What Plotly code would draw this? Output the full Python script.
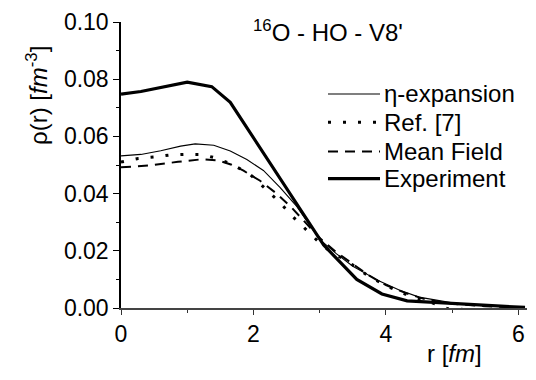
import plotly.graph_objects as go

# ---- data ----
r_eta = [0, 0.3, 0.6, 0.9, 1.12, 1.4, 1.65, 1.9, 2.15, 2.4, 2.65, 3.0, 3.25, 3.5, 3.9, 4.2, 4.5, 5.0, 5.5, 6.1]
rho_eta = [0.0532, 0.0537, 0.0550, 0.0566, 0.0574, 0.0569, 0.0549, 0.0519, 0.0481, 0.0422, 0.0356, 0.0240,
           0.0190, 0.0146, 0.0094, 0.0063, 0.0038, 0.0018, 0.0007, 0.0002]

r_ref7 = [0, 0.26, 0.51, 0.74, 0.98, 1.21, 1.44, 1.67, 1.94, 2.15, 2.39, 2.6, 2.83, 3.06, 3.5, 3.76, 4.04,
          4.29, 4.72, 4.94, 5.17, 5.42]
rho_ref7 = [0.0510, 0.0523, 0.0528, 0.0535, 0.0537, 0.0537, 0.0524, 0.0503, 0.0469, 0.0424, 0.0371, 0.0318,
            0.0265, 0.0214, 0.0150, 0.0108, 0.0074, 0.0049, 0.0016, -0.0003, -0.0005, -0.0005]

r_mf = [0, 0.41, 0.86, 1.22, 1.47, 1.67, 1.85, 2.1, 2.35, 2.58, 2.8, 3.0, 3.25, 3.5, 3.75, 4.0, 4.3, 4.6,
        5.0, 5.5, 6.1]
rho_mf = [0.0492, 0.0498, 0.0511, 0.0520, 0.0516, 0.0501, 0.0480, 0.0445, 0.0400, 0.0350, 0.0295, 0.0245,
          0.0195, 0.0153, 0.0113, 0.0080, 0.0052, 0.0030, 0.0015, 0.0006, 0.0001]

r_exp = [0, 0.3, 1.0, 1.37, 1.65, 3.06, 3.56, 3.94, 4.32, 4.7, 5.4, 6.1]
rho_exp = [0.0748, 0.0757, 0.0790, 0.0774, 0.0719, 0.0220, 0.0100, 0.0049, 0.0025, 0.0020, 0.0010, 0.0002]

legend_names = ["\u03b7-expansion", "Ref. [7]", "Mean Field", "Experiment"]

FONT = "Liberation Sans, Arial, sans-serif"
styles = [
    dict(color="black", width=1.1, dash="solid"),
    dict(color="black", width=3, dash="3px,12px"),
    dict(color="black", width=2, dash="10px,7px"),
    dict(color="black", width=3.2, dash="solid"),
]

fig = go.Figure()
for (x, y), st, name in zip([(r_eta, rho_eta), (r_ref7, rho_ref7), (r_mf, rho_mf), (r_exp, rho_exp)],
                            styles, legend_names):
    fig.add_trace(go.Scatter(x=x, y=y, mode="lines", name=name, line=st, showlegend=False))

W, H = 536, 380
L, R, T, B = 121, 9, 14, 72
pw, ph = W - L - R, H - T - B

def px(xp):
    return (xp - L) / pw

def py(yp):
    return (H - B - yp) / ph

# manual legend (styled like the original)
rows = [88, 117, 147, 175]
for st, name, yy in zip(styles, legend_names, rows):
    fig.add_shape(type="line", xref="paper", yref="paper", x0=px(328), x1=px(380), y0=py(yy), y1=py(yy),
                  line=dict(color="black", width=st["width"], dash=st["dash"]))
    fig.add_annotation(xref="paper", yref="paper", x=px(382), y=py(yy), text=name, showarrow=False,
                       xanchor="left", yanchor="middle", font=dict(family=FONT, size=24, color="black"))

# title
fig.add_annotation(xref="paper", yref="paper", x=px(328), y=py(23), text="<sup>16</sup>O - HO - V8'",
                   showarrow=False, xanchor="center", yanchor="middle",
                   font=dict(family=FONT, size=24, color="black"))
# y title
fig.add_annotation(xref="paper", yref="paper", x=px(37), y=py(90),
                   text="\u03c1(r) [<i>fm</i><sup>-3</sup>]", textangle=-90, showarrow=False,
                   xanchor="center", yanchor="middle", font=dict(family=FONT, size=24, color="black"))
# x title
fig.add_annotation(xref="paper", yref="paper", x=px(454), y=py(355), text="r [<i>fm</i>]",
                   showarrow=False, xanchor="center", yanchor="middle",
                   font=dict(family=FONT, size=24, color="black"))

fig.update_layout(
    width=W, height=H, margin=dict(l=L, r=R, t=T, b=B),
    paper_bgcolor="white", plot_bgcolor="white",
    font=dict(family=FONT, size=23, color="black"),
    xaxis=dict(range=[0, 6.13], tickvals=[0, 2, 4, 6], ticks="outside", ticklen=5, tickwidth=1.3,
               tickcolor="#333", showline=True, linecolor="#444", linewidth=1.5, showgrid=False,
               zeroline=False, tickfont=dict(size=23),
               minor=dict(tickvals=[1, 3, 5], ticks="outside", ticklen=3, tickcolor="#333", tickwidth=1.3)),
    yaxis=dict(range=[0, 0.1], tickvals=[0, 0.02, 0.04, 0.06, 0.08, 0.1], tickformat=".2f",
               ticks="outside", ticklen=6, tickwidth=1.3, tickcolor="black", showline=True,
               linecolor="black", linewidth=1.5, showgrid=False, zeroline=False, tickfont=dict(size=23),
               minor=dict(tickvals=[0.01, 0.03, 0.05, 0.07, 0.09], ticks="outside", ticklen=3,
                          tickcolor="black", tickwidth=1.3)),
)

fig.write_html("out.html")
